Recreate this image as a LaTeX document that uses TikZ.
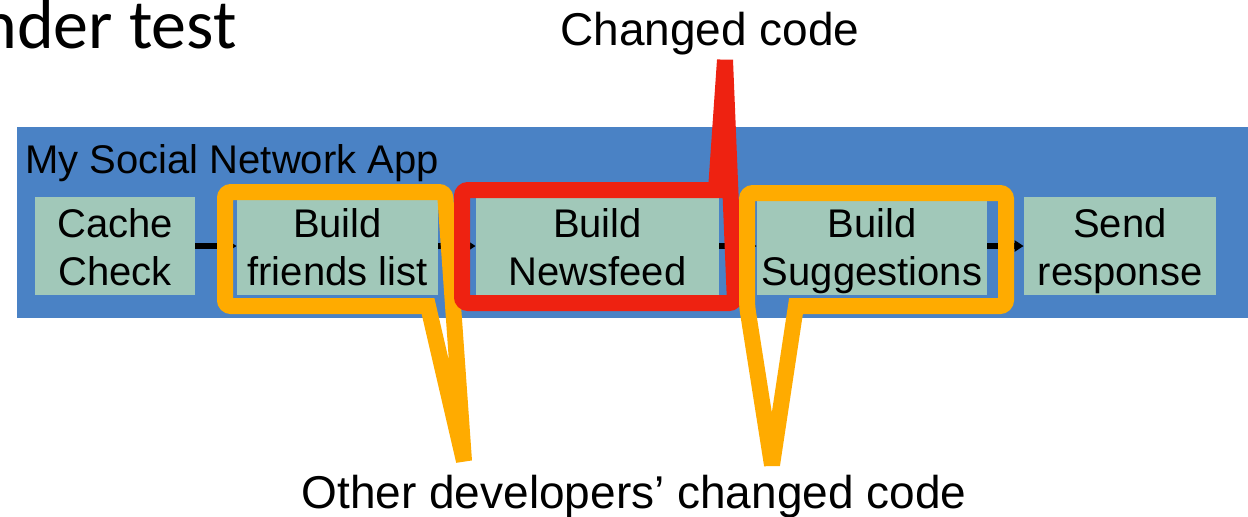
\documentclass[tikz,border=0pt]{standalone}
\usepackage{fontspec}
\setmainfont{Liberation Sans}
\newfontfamily\titlefont{Carlito}
\usetikzlibrary{arrows.meta}
\definecolor{appblue}{HTML}{4A82C5}
\definecolor{boxgreen}{HTML}{A1C8B9}
\definecolor{calloutorange}{HTML}{FFAB00}
\definecolor{calloutred}{HTML}{EE2211}
\newcommand\toprule{\rule{0pt}{20pt}}
\newcommand\botrule{\rule[-5pt]{0pt}{5pt}}
\tikzset{
  stepbox/.style={rectangle, fill=boxgreen, inner sep=0pt, minimum height=48pt,
    align=center, font=\fontsize{20}{24}\selectfont},
  flow/.style={draw=black, line width=3pt, -{Triangle[length=4.5pt,width=5.5pt]}},
  calloutline/.style={line width=8pt, miter limit=4, line join=miter},
  lbl/.style={inner sep=0pt, font=\fontsize{23}{27}\selectfont}
}
\begin{document}
\begin{tikzpicture}[x=0.5pt,y=-0.5pt]
\useasboundingbox (0,0) rectangle (1248,516);
% title fragment
\node[inner sep=0pt, anchor=base west, font=\titlefont\fontsize{35}{42}\selectfont] (title) at (-20,48) {nder test};
% app background
\fill[appblue] (17,127) rectangle (1260,318);
\node[inner sep=0pt, anchor=base west, font=\fontsize{20}{24}\selectfont] (app) at (25,173) {My Social Network App};
% steps
\node[stepbox, minimum width=80pt] (cache) at (115,246) {\toprule Cache\\Check\botrule};
\node[stepbox, minimum width=100.5pt] (friends) at (337.5,246) {\toprule Build\\friends list\botrule};
\node[stepbox, minimum width=121.5pt] (news) at (597.5,246) {\toprule Build\\Newsfeed\botrule};
\node[stepbox, minimum width=115pt] (sugg) at (872,246) {\toprule Build\\Suggestions\botrule};
\node[stepbox, minimum width=96pt] (send) at (1120,246) {\toprule Send\\response\botrule};
% connectors
\draw[flow] (cache.east |- 0,246) -- (friends.west |- 0,246);
\draw[flow] (friends.east |- 0,246) -- (news.west |- 0,246);
\draw[flow] (news.east |- 0,246) -- (sugg.west |- 0,246);
\draw[flow] (sugg.east |- 0,246) -- (send.west |- 0,246);
% callouts
\draw[calloutline, draw=calloutorange]
  (464,461) -- (428,306) [rounded corners=3pt] -- (225,306) -- (225,192) -- (445,192) [sharp corners] -- cycle;
\draw[calloutline, draw=calloutred]
  (725,60) -- (716,190) [rounded corners=3pt] -- (462,190) -- (462,303) -- (735,303) [sharp corners] -- cycle;
\draw[calloutline, draw=calloutorange]
  (772,465) -- (796,306) [rounded corners=3pt] -- (1006,306) -- (1006,193) -- (747,193) -- (747,306) [sharp corners] -- cycle;
% labels
\node[lbl, anchor=base] (changed) at (710,45) {Changed code};
\node[lbl, anchor=base] (others) at (634,508) {Other developers’ changed code};
\end{tikzpicture}
\end{document}
